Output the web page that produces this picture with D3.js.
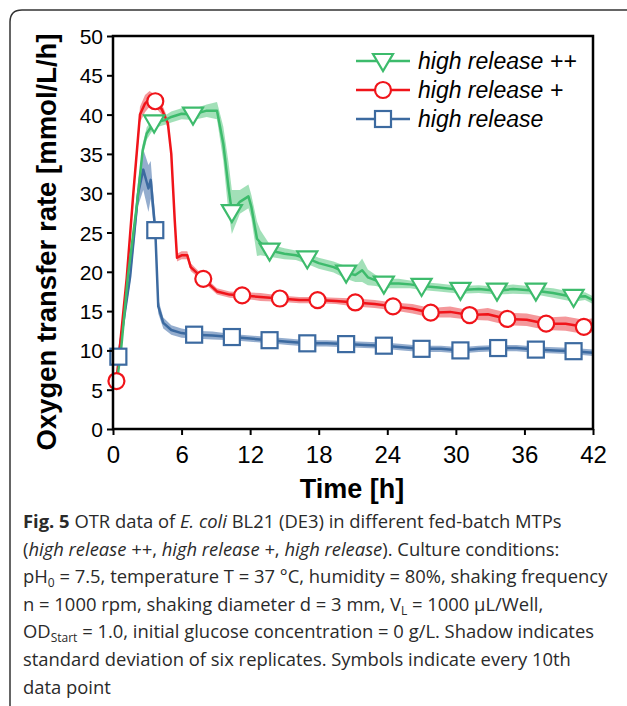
<!DOCTYPE html>
<html>
<head>
<meta charset="utf-8">
<script src="https://cdn.jsdelivr.net/npm/d3@7"></script>
<style>
  body { margin: 0; background: #fff; }
  svg { display: block; }
</style>
</head>
<body>
<svg id="chart" width="627" height="706"></svg>
<script>
// ---- data ----
var seriesNames = ["high release ++", "high release +", "high release"];

// high release ++ (green)
var greenT  = [0.3, 0.7, 1.3, 2.07, 2.6, 2.95, 3.6, 4.55, 5.1, 6.0, 7.0, 8.2, 9.1, 9.65, 10.1, 10.4, 11.1, 11.85, 12.1, 12.6, 12.9, 13.7, 15.0, 16.0, 17.0, 18.0, 19.3, 20.4, 21.2, 21.8, 22.3, 23.0, 23.7, 25.0, 26.0, 27.0, 28.5, 30.4, 32.0, 33.6, 35.0, 37.0, 38.5, 40.3, 41.3, 42];
var greenV  = [5.5, 10, 19.4, 28.3, 35.5, 37.6, 39.0, 39.3, 39.7, 40.1, 40.0, 40.5, 40.5, 36.3, 30.8, 27.6, 28.9, 29.6, 28.3, 24.2, 23.7, 22.7, 22.3, 22.1, 21.7, 21.1, 20.6, 19.9, 19.6, 20.2, 19.3, 18.9, 18.5, 18.5, 18.4, 18.2, 18.0, 17.7, 17.8, 17.6, 17.8, 17.6, 17.3, 16.8, 16.9, 16.4];
var greenSD = [0.5, 0.5, 0.6, 0.8, 0.8, 0.8, 0.7, 0.6, 0.7, 0.7, 0.7, 0.8, 1.1, 2.2, 3.2, 2.8, 1.5, 1.5, 1.5, 2.2, 1.6, 0.8, 0.7, 0.6, 0.7, 0.7, 0.7, 0.8, 0.9, 1.5, 1.0, 0.7, 0.6, 0.6, 0.5, 0.5, 0.5, 0.5, 0.5, 0.5, 0.6, 0.5, 0.6, 0.6, 0.5, 0.5];
var greenMarkT = [3.6, 7.0, 10.4, 13.7, 17.0, 20.4, 23.7, 27.0, 30.4, 33.6, 37.0, 40.3];
var greenMarkV = [39.0, 40.0, 27.6, 22.7, 21.7, 19.9, 18.5, 18.2, 17.7, 17.6, 17.6, 16.8];

// high release + (red)
var redT  = [0.3, 1.2, 1.78, 2.36, 2.8, 3.2, 3.7, 4.26, 4.8, 5.1, 5.4, 5.6, 6.0, 6.5, 6.8, 7.9, 9.1, 10.2, 11.3, 12.9, 14.6, 16.3, 17.9, 19.5, 21.2, 22.9, 24.5, 26.2, 27.8, 29.5, 31.2, 32.8, 34.5, 36.2, 37.9, 39.6, 41.2, 42];
var redV  = [6.1, 19.2, 30, 40, 41.4, 42, 41.7, 40.7, 38.9, 35, 26.6, 21.8, 22.1, 22.1, 20.6, 19.1, 17.5, 17.1, 17.0, 16.8, 16.6, 16.4, 16.4, 16.3, 16.1, 15.9, 15.6, 15.3, 14.8, 14.9, 14.5, 14.6, 14.0, 13.9, 13.4, 13.4, 13.0, 13.2];
var redSD = [0.3, 0.5, 0.8, 1.0, 1.1, 1.0, 0.8, 0.7, 0.6, 0.6, 0.6, 0.5, 0.5, 0.5, 0.5, 0.4, 0.4, 0.4, 0.4, 0.5, 0.4, 0.4, 0.4, 0.4, 0.5, 0.5, 0.5, 0.6, 0.6, 0.7, 0.6, 0.8, 0.8, 0.8, 0.8, 0.9, 0.9, 0.9];
var redMarkT = [0.3, 3.7, 7.9, 11.3, 14.6, 17.9, 21.2, 24.5, 27.8, 31.2, 34.5, 37.9, 41.2];
var redMarkV = [6.1, 41.7, 19.1, 17.0, 16.6, 16.4, 16.1, 15.6, 14.8, 14.5, 14.0, 13.4, 13.0];

// high release (blue)
var blueT  = [0.47, 1.5, 2.2, 2.65, 3.1, 3.3, 3.7, 3.96, 4.4, 5.1, 6.0, 7.1, 8.7, 10.4, 12.0, 13.7, 15.3, 17.0, 18.7, 20.4, 22.0, 23.7, 25.3, 27.0, 28.7, 30.4, 32.0, 33.7, 35.3, 37.0, 38.7, 40.3, 42];
var blueV  = [9.2, 19.4, 30, 33.0, 30.6, 31.7, 25.3, 15.6, 13.5, 12.6, 12.2, 12.0, 11.9, 11.7, 11.5, 11.3, 11.1, 10.9, 10.9, 10.8, 10.7, 10.6, 10.4, 10.2, 10.2, 10.0, 10.2, 10.3, 10.3, 10.1, 10.0, 9.9, 9.7];
var blueSD = [0.4, 0.8, 1.6, 2.6, 3.0, 2.4, 1.4, 0.9, 0.7, 0.6, 0.6, 0.5, 0.5, 0.4, 0.4, 0.4, 0.4, 0.4, 0.4, 0.4, 0.4, 0.4, 0.4, 0.4, 0.4, 0.4, 0.4, 0.4, 0.4, 0.4, 0.4, 0.4, 0.4];
var blueMarkT = [0.47, 3.7, 7.1, 10.4, 13.7, 17.0, 20.4, 23.7, 27.0, 30.4, 33.7, 37.0, 40.3];
var blueMarkV = [9.2, 25.3, 12.0, 11.7, 11.3, 10.9, 10.8, 10.6, 10.2, 10.0, 10.3, 10.1, 9.9];

var xTicks = [0, 6, 12, 18, 24, 30, 36, 42];
var yTicks = [0, 5, 10, 15, 20, 25, 30, 35, 40, 45, 50];

function zip(t, v, sd) {
    return t.map(function(d, i) { return {t: d, v: v[i], sd: sd ? sd[i] : 0}; });
}

var series = [
    {name: seriesNames[0], color: "#3dbb6c", band: "#92dbac", shape: "tri",
     pts: zip(greenT, greenV, greenSD), marks: zip(greenMarkT, greenMarkV)},
    {name: seriesNames[1], color: "#f0141a", band: "#f2868a", shape: "circle",
     pts: zip(redT, redV, redSD), marks: zip(redMarkT, redMarkV)},
    {name: seriesNames[2], color: "#3c6aa0", band: "#819fc5", shape: "square",
     pts: zip(blueT, blueV, blueSD), marks: zip(blueMarkT, blueMarkV)}
];

// ---- layout ----
var svg = d3.select("#chart");
var plotL = 113, plotR = 593, plotT = 36, plotB = 429;
var sans = "Liberation Sans, Arial, sans-serif";

var x = d3.scaleLinear().domain([0, 42]).range([plotL, plotR]);
var y = d3.scaleLinear().domain([0, 50]).range([plotB, plotT]);

// outer frame with rounded corner
svg.append("path")
    .attr("d", "M10,706 L10,22 Q10,10 22,10 L627,10")
    .attr("fill", "none")
    .attr("stroke", "#333")
    .attr("stroke-width", 1.5);

var plot = svg.append("g");

// shaded std bands, then lines (draw bottom to top: blue, red, green)
var drawOrder = [series[2], series[1], series[0]];

drawOrder.forEach(function(s) {
    var area = d3.area()
        .x(function(d) { return x(d.t); })
        .y0(function(d) { return y(d.v - d.sd); })
        .y1(function(d) { return y(d.v + d.sd); });
    plot.append("path")
        .datum(s.pts)
        .attr("d", area)
        .attr("fill", s.band)
        .attr("opacity", 0.85);
});

drawOrder.forEach(function(s) {
    var line = d3.line()
        .x(function(d) { return x(d.t); })
        .y(function(d) { return y(d.v); });
    plot.append("path")
        .datum(s.pts)
        .attr("d", line)
        .attr("fill", "none")
        .attr("stroke", s.color)
        .attr("stroke-width", 2.5)
        .attr("stroke-linejoin", "round");
});

function drawMarker(g, shape, cx, cy, color) {
    if (shape === "circle") {
        g.append("circle")
            .attr("cx", cx).attr("cy", cy).attr("r", 8);
    } else if (shape === "square") {
        g.append("rect")
            .attr("x", cx - 8).attr("y", cy - 8)
            .attr("width", 16).attr("height", 16);
    } else {
        g.append("path")
            .attr("d", "M" + (cx - 10) + "," + (cy - 7) + " L" + (cx + 10) + "," + (cy - 7) + " L" + cx + "," + (cy + 10) + " Z");
    }
    g.selectAll("*")
        .attr("fill", "#fff")
        .attr("stroke", color)
        .attr("stroke-width", 2.2)
        .attr("stroke-linejoin", "miter");
}

drawOrder.forEach(function(s) {
    s.marks.forEach(function(d) {
        drawMarker(plot.append("g"), s.shape, x(d.t), y(d.v), s.color);
    });
});

// ---- axes ----
var axisY = d3.axisLeft(y).tickValues(yTicks).tickSize(6).tickPadding(4);
var axisX = d3.axisBottom(x).tickValues(xTicks).tickSize(6).tickPadding(11);

var gy = svg.append("g").attr("transform", "translate(" + plotL + ",0)").call(axisY);
var gx = svg.append("g").attr("transform", "translate(0," + plotB + ")").call(axisX);

[gx, gy].forEach(function(g) {
    g.select(".domain").remove();
    g.selectAll("line").attr("stroke", "#000").attr("stroke-width", 2);
    g.selectAll("text").attr("fill", "#000").style("font-family", sans);
});
gy.selectAll("text").attr("dy", "0.36em").style("font-size", "21px");
gx.selectAll("text").style("font-size", "24px");

// plot box
svg.append("rect")
    .attr("x", plotL).attr("y", plotT)
    .attr("width", plotR - plotL).attr("height", plotB - plotT)
    .attr("fill", "none")
    .attr("stroke", "#000")
    .attr("stroke-width", 2.5);

// axis titles
svg.append("text")
    .attr("transform", "translate(56,242) rotate(-90)")
    .attr("text-anchor", "middle")
    .style("font-family", sans)
    .style("font-weight", "bold")
    .style("font-size", "27.5px")
    .text("Oxygen transfer rate [mmol/L/h]");

svg.append("text")
    .attr("x", 352)
    .attr("y", 498)
    .attr("text-anchor", "middle")
    .style("font-family", sans)
    .style("font-weight", "bold")
    .style("font-size", "27px")
    .text("Time [h]");

// ---- legend ----
var legend = svg.append("g");
series.forEach(function(s, i) {
    var ly = 61 + i * 29;
    legend.append("line")
        .attr("x1", 356).attr("x2", 410)
        .attr("y1", ly).attr("y2", ly)
        .attr("stroke", s.color).attr("stroke-width", 2.5);
    drawMarker(legend.append("g"), s.shape, 383, ly, s.color);
    legend.append("text")
        .attr("x", 418).attr("y", ly + 8)
        .style("font-family", sans)
        .style("font-style", "italic")
        .style("font-size", "23px")
        .text(s.name);
});

// ---- caption ----
var capLines = [
    [["Fig. 5", "b"], [" OTR data of ", ""], ["E. coli", "i"], [" BL21 (DE3) in different fed-batch MTPs", ""]],
    [["(", ""], ["high release ++", "i"], [", ", ""], ["high release +", "i"], [", ", ""], ["high release", "i"], ["). Culture conditions:", ""]],
    [["pH", ""], ["0", "sub"], [" = 7.5, temperature T = 37 °C, humidity = 80%, shaking frequency", ""]],
    [["n = 1000 rpm, shaking diameter d = 3 mm, V", ""], ["L", "sub"], [" = 1000 µL/Well,", ""]],
    [["OD", ""], ["Start", "sub"], [" = 1.0, initial glucose concentration = 0 g/L. Shadow indicates", ""]],
    [["standard deviation of six replicates. Symbols indicate every 10th", ""]],
    [["data point", ""]]
];

var cap = svg.append("g")
    .style("font-family", "Open Sans, Noto Sans, sans-serif")
    .style("font-size", "18.4px")
    .attr("fill", "#2a2a2a");

capLines.forEach(function(parts, i) {
    var t = cap.append("text").attr("x", 23).attr("y", 528 + i * 27.6);
    parts.forEach(function(p, j) {
        var ts = t.append("tspan").text(p[0]);
        if (p[1] === "b") ts.style("font-weight", "bold");
        if (p[1] === "i") ts.style("font-style", "italic");
        if (p[1] === "sub") ts.style("font-size", "12px").attr("dy", 4);
        if (j > 0 && parts[j - 1][1] === "sub") ts.attr("dy", -4);
    });
});
</script>
</body>
</html>
